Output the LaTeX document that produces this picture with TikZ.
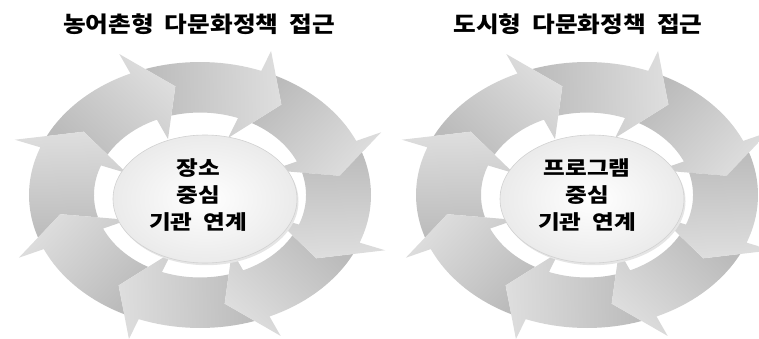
\documentclass[tikz,border=0pt]{standalone}
\usepackage{fontspec}
\newfontfamily\krfont{Noto Sans CJK KR}
\definecolor{arrlight}{HTML}{DEDEDE}
\definecolor{arrdark}{HTML}{BBBBBB}
\newcommand\hxc[1]{\scalebox{1.18}[1]{#1}}
\newcommand\hxt[1]{\scalebox{1.12}[1]{#1}}
\newcommand\wgap{\hspace{0.45em}}
\newcommand\cycarrow[1]{%
  \pgfmathsetmacro\cyA{#1}%
  \pgfmathsetmacro\cyB{#1+45-5.3}%
  \pgfmathsetmacro\cyC{#1+45-8.3}%
  \pgfmathsetmacro\cyT{#1-14}%
  \pgfmathsetmacro\cyP{#1+45-14}%
  \pgfmathsetmacro\cyS{#1+22.5-180}%
  \path[top color=arrlight, bottom color=arrdark, shading angle=\cyS]
    (\cyB:1) -- plot[domain=\cyB:\cyA, samples=18] (\x:1)
    -- (\cyA:1.16) -- (\cyT:0.83) -- (\cyA:0.46) -- (\cyA:0.62)
    -- plot[domain=\cyA:\cyC, samples=18] (\x:0.62)
    -- (\cyP:0.83) -- cycle;
}
\newcommand\ringof[1]{%
  \begin{scope}[shift={(#1,143)}, x=171pt, y=133pt]
    \foreach \a in {24,69,...,339} {\cycarrow{\a}}
  \end{scope}
  \fill[black!10] (#1+6.5,136.8) ellipse [x radius=92pt, y radius=64pt];
  \path[draw=black!18, line width=0.6pt, inner color=white, outer color=black!8]
    (#1+5,139) ellipse [x radius=92pt, y radius=64pt];
}
\tikzset{
  ctext/.style={font=\krfont\bfseries\fontsize{20}{27}\selectfont, align=center, inner sep=0pt, text=black},
  ttext/.style={font=\krfont\bfseries\fontsize{22}{26}\selectfont, inner sep=0pt, text=black}
}
\begin{document}
\begin{tikzpicture}[x=1pt,y=1pt]
\useasboundingbox (0,0) rectangle (759,338);
\ringof{200}
\ringof{587}
\node[ctext] (hubL) at (198,143) {\hxc{장소}\\\hxc{중심}\\\hxc{기관\wgap 연계}};
\node[ctext] (hubR) at (587,143) {\hxc{프로그램}\\\hxc{중심}\\\hxc{기관\wgap 연계}};
\node[ttext] (titleL) at (199,314) {\hxt{농어촌형\wgap 다문화정책\wgap 접근}};
\node[ttext] (titleR) at (578,314) {\hxt{도시형\wgap 다문화정책\wgap 접근}};
\end{tikzpicture}
\end{document}
